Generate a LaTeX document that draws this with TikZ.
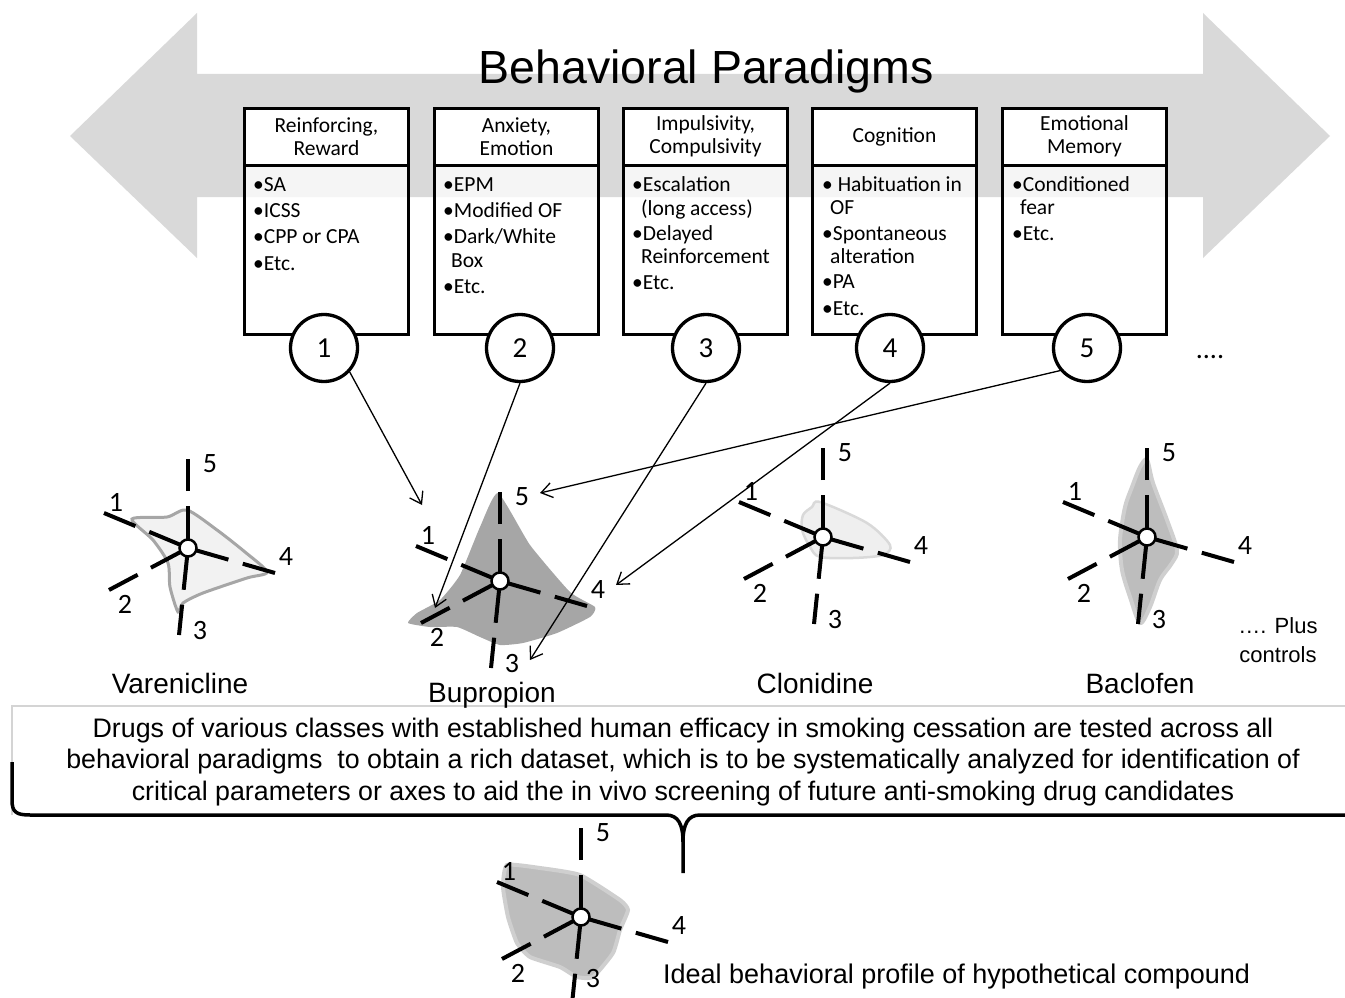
\documentclass[tikz,border=0pt]{standalone}
\usepackage{fontspec}
\setmainfont{Liberation Sans}
\newfontfamily\cbr{Carlito}
\usetikzlibrary{arrows.meta}
\definecolor{bandgray}{HTML}{D9D9D9}
\definecolor{polydark}{HTML}{A6A6A6}
\definecolor{polymid}{HTML}{BDBDBD}
\definecolor{polymidedge}{HTML}{CFCFCF}
\definecolor{polylight}{HTML}{F2F2F2}
\definecolor{polylightedge}{HTML}{A6A6A6}
\definecolor{clonfill}{HTML}{EFEFEF}
\definecolor{clonedge}{HTML}{D9D9D9}
\definecolor{framegray}{HTML}{D4D4D4}

% #1 name prefix, #2 position of label 3
\newcommand\radarplot[2]{%
  \draw[radaxis] (0,0) -- (0,-89) coordinate (#1e5);
  \draw[radaxis] (0,0) -- (-84,-35) coordinate (#1e1);
  \draw[radaxis] (0,0) -- (87,25) coordinate (#1e4);
  \draw[radaxis] (0,0) -- (-79,42) coordinate (#1e2);
  \draw[radaxis] (0,0) -- (-9,87) coordinate (#1e3);
  \node[hub] (#1hub) at (0,0) {};
  \node[axlab] (#1l5) at (22,-84) {5};
  \node[axlab] (#1l1) at (-72,-46) {1};
  \node[axlab] (#1l4) at (98,9) {4};
  \node[axlab] (#1l2) at (-63,56) {2};
  \node[axlab] (#1l3) at (#2) {3};
}

\tikzset{
  radaxis/.style={line width=4pt, dash pattern=on 42pt off 15pt on 60pt},
  hub/.style={circle, draw, line width=2.5pt, fill=white, minimum size=17pt, inner sep=0pt},
  axlab/.style={font=\cbr\fontsize{28}{30}\selectfont, inner sep=0pt},
  headbox/.style={draw, line width=3pt, fill=white, minimum width=164pt, minimum height=56.5pt,
     inner sep=0pt, align=center, font=\cbr\fontsize{21.5}{23}\selectfont},
  bodybox/.style={draw, line width=3pt, fill=white, fill opacity=0.75, minimum width=164pt,
     minimum height=169.5pt, inner sep=0pt},
  numcirc/.style={circle, draw, line width=3.3pt, fill=white, minimum size=67pt, inner sep=0pt,
     font=\cbr\fontsize{29}{30}\selectfont},
  itm/.style={anchor=base west, inner sep=0pt, font=\cbr\fontsize{21.5}{23}\selectfont},
  conn/.style={line width=1.3pt, -{Straight Barb[length=11pt,width=15pt]}},
  drug/.style={font=\fontsize{28}{30}\selectfont, inner sep=0pt},
}

\begin{document}
\begin{tikzpicture}[x=1pt,y=-1pt]
\useasboundingbox (0,0) rectangle (1345,998);

% big double arrow
\fill[bandgray] (70,136) -- (197,13) -- (197,74) -- (1203,74) -- (1203,13) -- (1330,136)
   -- (1203,258) -- (1203,197) -- (197,197) -- (197,258) -- cycle;
\node[anchor=base, inner sep=0pt, font=\fontsize{46.5}{50}\selectfont] (title) at (706,84) {Behavioral Paradigms};

% boxes
\node[bodybox] (bd1) at (326.5,249.75) {};
\node[headbox] (hd1) at (326.5,136.75) {Reinforcing,\\Reward};
\node[bodybox] (bd2) at (516.5,249.75) {};
\node[headbox] (hd2) at (516.5,136.75) {Anxiety,\\Emotion};
\node[bodybox] (bd3) at (705.5,249.75) {};
\node[headbox] (hd3) at (705.5,136.75) {Impulsivity,\\Compulsivity};
\node[bodybox] (bd4) at (894.5,249.75) {};
\node[headbox] (hd4) at (894.5,136.75) {Cognition};
\node[bodybox] (bd5) at (1084.5,249.75) {};
\node[headbox] (hd5) at (1084.5,136.75) {Emotional\\Memory};

% box items
\node[itm] (i11) at (253,191) {•SA};
\node[itm] (i12) at (253,217) {•ICSS};
\node[itm] (i13) at (253,243) {•CPP or CPA};
\node[itm] (i14) at (253,270) {•Etc.};

\node[itm] (i21) at (443,191) {•EPM};
\node[itm] (i22) at (443,217) {•Modified OF};
\node[itm] (i23) at (443,243) {•Dark/White};
\node[itm] (i24) at (451,267) {Box};
\node[itm] (i25) at (443,293) {•Etc.};

\node[itm] (i31) at (632,191) {•Escalation};
\node[itm] (i32) at (641,215) {(long access)};
\node[itm] (i33) at (632,240) {•Delayed};
\node[itm] (i34) at (641,263) {Reinforcement};
\node[itm] (i35) at (632,289) {•Etc.};

\node[itm] (i41) at (822,191) {• Habituation in};
\node[itm] (i42) at (830,214) {OF};
\node[itm] (i43) at (822,240) {•Spontaneous};
\node[itm] (i44) at (830,263) {alteration};
\node[itm] (i45) at (822,288) {•PA};
\node[itm] (i46) at (822,315) {•Etc.};

\node[itm] (i51) at (1012,191) {•Conditioned};
\node[itm] (i52) at (1020,214) {fear};
\node[itm] (i53) at (1012,240) {•Etc.};

% numbered circles
\node[numcirc] (c1) at (324,348) {1};
\node[numcirc] (c2) at (520,348) {2};
\node[numcirc] (c3) at (706,348) {3};
\node[numcirc] (c4) at (890,348) {4};
\node[numcirc] (c5) at (1087,348) {5};
\node[axlab] (more) at (1210,357) {....};

% bottom description frame
\draw[framegray, line width=1.5pt] (1350,706) -- (12,706) -- (12,815);
\node[align=center, inner sep=0pt, font=\fontsize{26.8}{31.5}\selectfont] (desc) at (683,762)
 {Drugs of various classes with established human efficacy in smoking cessation are tested across all\\
  behavioral paradigms\ \ to obtain a rich dataset, which is to be systematically analyzed for identification of\\
  critical parameters or axes to aid the in vivo screening of future anti-smoking drug candidates};

% polygons
\filldraw[fill=polylight, draw=polylightedge, line width=3pt]
  plot[smooth cycle, tension=0.45] coordinates {(132,519) (167,517) (187,510) (217,530) (245,552) (267,572)
   (247,578) (203,593) (183,603) (178,612) (170,587) (168,563) (153,540)};
\fill[polydark]
  plot[smooth cycle, tension=0.3] coordinates {(498,493) (530,545) (570,592) (595,607) (590,617) (557,633)
   (523,643) (500,645) (480,637) (457,627) (430,627) (408,623) (417,613) (440,600) (460,575) (480,527)};
\filldraw[fill=clonfill, draw=clonedge, line width=2.5pt]
  plot[smooth cycle, tension=0.5] coordinates {(820,502) (867,523) (890,545) (883,555) (853,558) (820,557)
   (810,547) (802,530) (803,515) (812,507)};
\filldraw[fill=polymid, draw=polymidedge, line width=4pt]
  plot[smooth cycle, tension=0.5] coordinates {(1147,460) (1153,483) (1167,520) (1177,550) (1172,563)
   (1160,580) (1150,607) (1140,623) (1130,597) (1122,570) (1120,540) (1125,507) (1132,487) (1140,467)};
\filldraw[fill=polymid, draw=polymidedge, line width=4pt]
  plot[smooth cycle, tension=0.3] coordinates {(507,865) (540,868) (580,875) (620,900) (628,910) (620,930)
   (613,953) (593,977) (577,977) (560,967) (530,957) (517,943) (508,917) (503,887)};

% radar charts
\coordinate (varc) at (188,548);
\coordinate (bupc) at (500,581);
\coordinate (clnc) at (823,537);
\coordinate (bacc) at (1147,537);
\coordinate (idlc) at (581,917);
\begin{scope}[shift={(varc)}]\radarplot{var}{12,83}\end{scope}
\begin{scope}[shift={(bupc)}]\radarplot{bup}{12,83}\end{scope}
\begin{scope}[shift={(clnc)}]\radarplot{cln}{12,83}\end{scope}
\begin{scope}[shift={(bacc)}]\radarplot{bac}{12,83}\end{scope}
\begin{scope}[shift={(idlc)}]\radarplot{idl}{12,62}\end{scope}

% drug names
\node[drug] (nvar) at (180,683) {Varenicline};
\node[drug] (nbup) at (492,695) {Bupropion};
\node[drug] (ncln) at (815,683) {Clonidine};
\node[drug] (nbac) at (1140,683) {Baclofen};
\node[inner sep=0pt, align=center, font=\fontsize{22}{29}\selectfont] (plus) at (1278,640) {…. Plus\\controls};
\node[anchor=base west, inner sep=0pt, font=\fontsize{27}{30}\selectfont] (ideal) at (663,983) {Ideal behavioral profile of hypothetical compound};

% connectors
\coordinate (t1) at (422,505);
\coordinate (t2) at (435,608);
\coordinate (t3) at (530,660);
\coordinate (t4) at (616,585);
\coordinate (t5) at (540,493);
\draw[conn] (c1.317) -- (t1);
\draw[conn] (c2.south) -- (t2);
\draw[conn] (c3.south) -- (t3);
\draw[conn] (c4.south) -- (t4);
\draw[conn] (c5.220) -- (t5);

% brace
\draw[line width=3.5pt, line join=round]
  (12,762) -- (12,800) .. controls (12,812) and (16,815) .. (30,815) -- (666,815)
  .. controls (678,815) and (683,824) .. (683,842) -- (683,873);
\draw[line width=3.5pt, line join=round]
  (683,842) .. controls (683,824) and (688,815) .. (700,815) -- (1350,815);
\end{tikzpicture}
\end{document}
